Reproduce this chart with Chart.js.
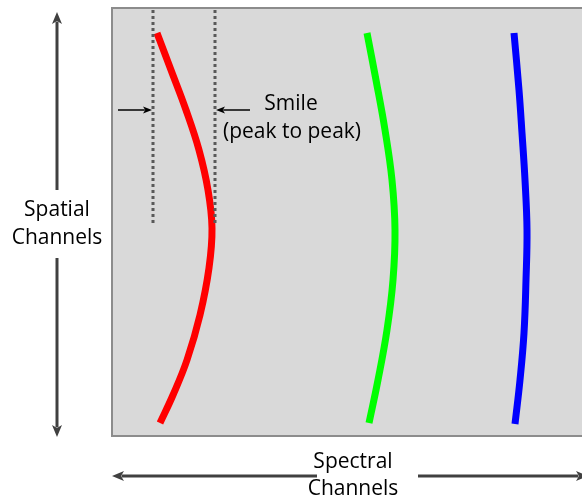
<!DOCTYPE html>
<html>
<head>
<meta charset="utf-8">
<script src="https://cdn.jsdelivr.net/npm/chart.js@4/dist/chart.umd.min.js"></script>
<style>
  html, body { margin: 0; padding: 0; background: #fff; }
  #wrap { width: 582px; height: 501px; }
</style>
</head>
<body>
<div id="wrap"><canvas id="smile"></canvas></div>
<script>
// diagram units: x to the right, y downward from top of the detector box
const redX = [45, 59, 74, 87, 96, 100, 97, 88, 75, 61, 48];
const redY = [25, 62, 102, 142, 182, 220, 260, 307, 352, 387, 415];
const greenX = [255, 264, 273, 280, 283, 281, 275, 266, 257];
const greenY = [25, 72, 122, 172, 222, 272, 322, 372, 415];
const blueX = [402, 407, 410, 413, 415, 414, 412, 408, 403];
const blueY = [25, 82, 125, 172, 222, 272, 325, 372, 416];

// peak-to-peak guide lines
const guideX = [41, 103];
const guideY = [2, 217];

const labels = {
  smile: ["Smile", "(peak to peak)"],
  spatial: ["Spatial", "Channels"],
  spectral: ["Spectral", "Channels"]
};

const toPts = (xs, ys) => xs.map((x, i) => ({ x: x, y: ys[i] }));

function curve(xs, ys, color) {
  return {
    data: toPts(xs, ys),
    showLine: true,
    borderColor: color,
    borderWidth: 7,
    borderCapStyle: "butt",
    tension: 0.4,
    pointRadius: 0
  };
}

function guide(x) {
  return {
    data: toPts([x, x], guideY),
    showLine: true,
    borderColor: "#595959",
    borderWidth: 3,
    borderDash: [3, 3],
    pointRadius: 0
  };
}

function arrow(ctx, x1, y1, x2, y2, color, width, headLen, headW) {
  const ang = Math.atan2(y2 - y1, x2 - x1);
  ctx.save();
  ctx.strokeStyle = color;
  ctx.fillStyle = color;
  ctx.lineWidth = width;
  ctx.beginPath();
  ctx.moveTo(x1, y1);
  ctx.lineTo(x2 - Math.cos(ang) * headLen * 0.8, y2 - Math.sin(ang) * headLen * 0.8);
  ctx.stroke();
  ctx.translate(x2, y2);
  ctx.rotate(ang);
  ctx.beginPath();
  ctx.moveTo(0, 0);
  ctx.lineTo(-headLen, -headW / 2);
  ctx.lineTo(-headLen * 0.75, 0);
  ctx.lineTo(-headLen, headW / 2);
  ctx.closePath();
  ctx.fill();
  ctx.restore();
}

const diagramPlugin = {
  id: "diagram",
  beforeDraw(chart) {
    const { ctx, chartArea: a } = chart;
    ctx.save();
    ctx.fillStyle = "#ffffff";
    ctx.fillRect(0, 0, chart.width, chart.height);
    ctx.fillStyle = "#d9d9d9";
    ctx.fillRect(a.left, a.top, a.right - a.left, a.bottom - a.top);
    ctx.strokeStyle = "#8c8c8c";
    ctx.lineWidth = 2;
    ctx.strokeRect(a.left, a.top, a.right - a.left + 4, a.bottom - a.top);
    ctx.restore();
  },
  afterDraw(chart) {
    const { ctx } = chart;
    const sx = chart.scales.x, sy = chart.scales.y;
    const px = v => sx.getPixelForValue(v);
    const py = v => sy.getPixelForValue(v);

    // smile markers
    arrow(ctx, px(6), py(102), px(40), py(102), "#000", 1.5, 9, 7);
    arrow(ctx, px(138), py(102), px(104), py(102), "#000", 1.5, 9, 7);

    // spatial axis arrow
    arrow(ctx, px(-55), py(182), px(-55), py(4), "#404040", 3, 12, 10);
    arrow(ctx, px(-55), py(250), px(-55), py(429), "#404040", 3, 12, 10);

    // spectral axis arrow
    arrow(ctx, px(205), py(468), px(0), py(468), "#404040", 3, 12, 10);
    arrow(ctx, px(306), py(468), px(476), py(468), "#404040", 3, 12, 10);

    ctx.save();
    ctx.fillStyle = "#000";
    ctx.font = "21px 'Open Sans', sans-serif";
    ctx.textAlign = "center";
    ctx.textBaseline = "middle";
    ctx.fillText(labels.smile[0], px(179), py(96));
    ctx.fillText(labels.smile[1], px(180), py(124));
    ctx.fillText(labels.spatial[0], px(-55), py(202));
    ctx.fillText(labels.spatial[1], px(-55), py(230));
    ctx.fillText(labels.spectral[0], px(241), py(454));
    ctx.fillText(labels.spectral[1], px(241), py(481));
    ctx.restore();
  }
};

new Chart(document.getElementById("smile"), {
  type: "scatter",
  data: {
    datasets: [
      guide(guideX[0]),
      guide(guideX[1]),
      curve(redX, redY, "#ff0000"),
      curve(greenX, greenY, "#00ff00"),
      curve(blueX, blueY, "#0000ff")
    ]
  },
  options: {
    responsive: true,
    maintainAspectRatio: false,
    animation: false,
    layout: { padding: { left: 112, top: 8, right: 0, bottom: 65 } },
    scales: {
      x: { type: "linear", min: 0, max: 470, display: false },
      y: { type: "linear", min: 0, max: 428, reverse: true, display: false }
    },
    plugins: {
      legend: { display: false },
      tooltip: { enabled: false }
    }
  },
  plugins: [diagramPlugin]
});
</script>
</body>
</html>
